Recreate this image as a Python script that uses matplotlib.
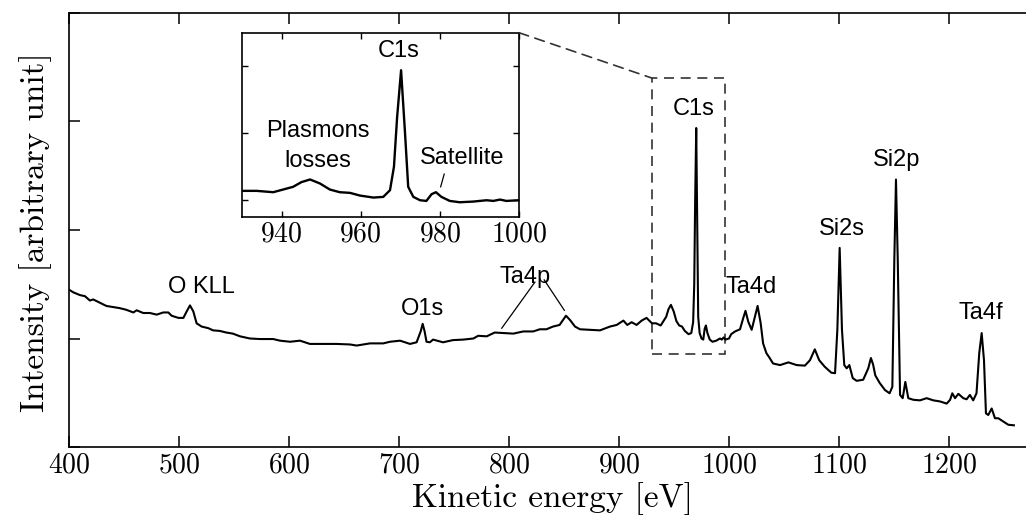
import matplotlib
matplotlib.use("Agg")
import matplotlib.pyplot as plt
from matplotlib.patches import Rectangle, ConnectionPatch

plt.rcParams['font.family'] = 'cmr10'
plt.rcParams['axes.formatter.use_mathtext'] = True

# survey spectrum, kinetic energy (eV) vs intensity (arb. units)
energy = [400, 404, 410, 414.5, 419, 422, 428, 434, 440, 446, 452, 458.5, 461.5,
          467.5, 473.6, 479.7, 485.7, 490.3, 493.3, 499.4, 504, 507, 510, 513,
          516, 520.6, 526.7, 531, 537, 543, 549, 555.5, 564.5, 573.6, 585.7,
          591.8, 601, 610, 619, 631, 643, 655.5, 661.5, 673.6, 685.7, 691.8,
          701, 710, 716, 719.7, 721.5, 723.3, 725, 728, 731, 740, 749, 758.5,
          767.6, 772, 779.7, 787, 794.8, 803.9, 813, 822, 828, 834, 840, 846,
          851.8, 855.5, 860, 864.5, 873.6, 882.7, 891.8, 897.9, 904, 907.5,
          911.5, 916, 920.6, 925,
          930, 933.7, 937.9, 940.4, 942.9, 945, 947.2, 949.7, 952.2, 954.7,
          957.3, 959.8, 963.2, 965.7, 967.4, 968.4, 969.2, 970.2, 971.2, 972,
          973.3, 975, 976.6, 977.9, 979, 980.4, 982.5, 985, 988.4, 991.8,
          993.5, 995.2, 996.8, 1000,
          1002, 1005.5, 1010, 1013, 1015, 1017.5, 1020.6, 1023.6, 1026, 1028.8,
          1031, 1034, 1037, 1040, 1046.4, 1054, 1061.5, 1069, 1073.6, 1078,
          1082, 1087, 1093, 1096.4, 1098.5, 1100.6, 1102.7, 1104.8, 1107,
          1109.4, 1112.5, 1116, 1122, 1126.6, 1129, 1131, 1133, 1137, 1141.8,
          1146, 1148.5, 1150.3, 1151.8, 1153.4, 1155.5, 1157.9, 1160.3, 1163,
          1167.6, 1173.6, 1179.7, 1185.7, 1191.8, 1197.9, 1201, 1203, 1205.5,
          1208.5, 1213, 1216, 1219, 1222, 1225, 1227.5, 1229.7, 1231.8, 1233.6,
          1235.7, 1238.8, 1241.8, 1244.8, 1249.4, 1253.9, 1259]
intensity = [1.45, 1.425, 1.40, 1.39, 1.35, 1.36, 1.33, 1.30, 1.29, 1.28, 1.265, 1.24, 1.26,
             1.235, 1.235, 1.22, 1.24, 1.24, 1.21, 1.19, 1.19, 1.25, 1.305, 1.25,
             1.14, 1.11, 1.095, 1.075, 1.07, 1.055, 1.045, 1.02, 1.00, 0.995, 0.995,
             0.98, 0.97, 0.98, 0.95, 0.95, 0.95, 0.945, 0.935, 0.955, 0.955, 0.97,
             0.98, 0.95, 0.965, 1.065, 1.135, 1.065, 0.97, 0.965, 0.99, 0.965, 0.985, 0.99,
             1.00, 1.025, 1.02, 1.055, 1.05, 1.045, 1.065, 1.065, 1.085, 1.085, 1.11, 1.125,
             1.21, 1.17, 1.11, 1.085, 1.08, 1.075, 1.11, 1.125, 1.165, 1.125,
             1.15, 1.125, 1.165, 1.19,
             1.14, 1.14, 1.12, 1.16, 1.20, 1.27, 1.31, 1.25, 1.16, 1.12,
             1.11, 1.07, 1.04, 1.05, 1.15, 1.50, 2.24, 2.94, 2.00, 1.20,
             1.05, 1.00, 0.99, 1.09, 1.12, 1.05, 0.99, 0.97, 0.98, 1.00,
             0.99, 1.01, 0.99, 1.00,
             1.04, 1.065, 1.085, 1.19, 1.255, 1.155, 1.08, 1.20, 1.30, 1.14,
             0.955, 0.865, 0.82, 0.77, 0.755, 0.78, 0.755, 0.75, 0.80, 0.90,
             0.80, 0.74, 0.685, 0.68, 1.08, 1.835, 1.08, 0.755, 0.725,
             0.755, 0.635, 0.61, 0.62, 0.725, 0.82, 0.76, 0.66, 0.59, 0.525,
             0.495, 0.555, 1.73, 2.465, 1.73, 0.48, 0.45, 0.60, 0.45,
             0.435, 0.43, 0.45, 0.43, 0.42, 0.40, 0.435, 0.495, 0.45,
             0.49, 0.45, 0.44, 0.48, 0.43, 0.495, 0.865, 1.05, 0.80, 0.31,
             0.295, 0.355, 0.265, 0.265, 0.235, 0.205, 0.20]

# peak labels: (text, energy, baseline height)
peak_labels = [("O KLL", 520.6, 1.422), ("O1s", 721, 1.219), ("Ta4p", 815, 1.514),
               ("C1s", 968, 3.056), ("Ta4d", 1019.8, 1.419), ("Si2s", 1102.7, 1.957),
               ("Si2p", 1152, 2.588), ("Ta4f", 1228.9, 1.179)]
ta4p_leaders = [((823.6, 1.52), (793.4, 1.095)), ((832, 1.54), (850.3, 1.26))]

zoom_xlim = (930, 1000)
zoom_box = (930, 996, 0.855, 3.40)

fig = plt.figure(figsize=(10.26, 5.16), dpi=100)
ax = fig.add_axes([69 / 1026, 1 - 447 / 516, 968 / 1026, 434 / 516])
ax.plot(energy, intensity, color='k', lw=1.5)
ax.set_xlim(400, 1280)
ax.set_ylim(0, 4)
ax.set_xticks([400, 500, 600, 700, 800, 900, 1000, 1100, 1200])
ax.set_yticks([0, 1, 2, 3, 4])
ax.set_yticklabels([])
ax.tick_params(direction='in', length=8, width=1.1, top=True, right=True,
               labelsize=20, pad=4)
for s in ax.spines.values():
    s.set_linewidth(1.2)

ax.set_xlabel("Kinetic energy [eV]", fontsize=24, va='baseline')
ax.xaxis.set_label_coords(0.499, -0.139)
ax.set_ylabel("Intensity [arbitrary unit]", fontsize=24, va='baseline')
ax.yaxis.set_label_coords(-0.0258, 0.494)

for txt, x, y in peak_labels:
    ax.text(x, y, txt, ha='center', va='baseline', fontsize=17,
            family='Liberation Sans')
for (x0, y0), (x1, y1) in ta4p_leaders:
    ax.plot([x0, x1], [y0, y1], color='k', lw=0.9)

bx0, bx1, by0, by1 = zoom_box
ax.add_patch(Rectangle((bx0, by0), bx1 - bx0, by1 - by0, fill=False,
                       edgecolor='#333333', lw=1.2, linestyle=(0, (6, 4))))

# zoom on the C1s region
axin = fig.add_axes([242 / 1026, 1 - 217 / 516, 277 / 1026, 184.3 / 516])
axin.plot(energy, intensity, color='k', lw=1.7)
axin.set_xlim(*zoom_xlim)
axin.set_ylim(0.75, 3.5)
axin.set_xticks([940, 960, 980, 1000])
axin.set_yticks([1, 2, 3])
axin.set_yticklabels([])
axin.tick_params(direction='in', length=4, width=1.0, top=True, right=True,
                 labelsize=20, pad=3)
for s in axin.spines.values():
    s.set_linewidth(1.2)

axin.text(969.7, 3.14, "C1s", ha='center', va='baseline', fontsize=17,
          family='Liberation Sans')
axin.text(949.2, 1.945, "Plasmons", ha='center', va='baseline', fontsize=17,
          family='Liberation Sans')
axin.text(949.2, 1.497, "losses", ha='center', va='baseline', fontsize=17,
          family='Liberation Sans')
axin.text(985.6, 1.537, "Satellite", ha='center', va='baseline', fontsize=17,
          family='Liberation Sans')
axin.plot([981.1, 980.2], [1.39, 1.20], color='k', lw=0.9)

con = ConnectionPatch(xyA=(zoom_xlim[1], 3.5), coordsA=axin.transData,
                      xyB=(bx0, by1), coordsB=ax.transData,
                      color='#333333', lw=1.2, linestyle=(0, (6, 4)))
fig.add_artist(con)

fig.savefig("out.png", dpi=100)
